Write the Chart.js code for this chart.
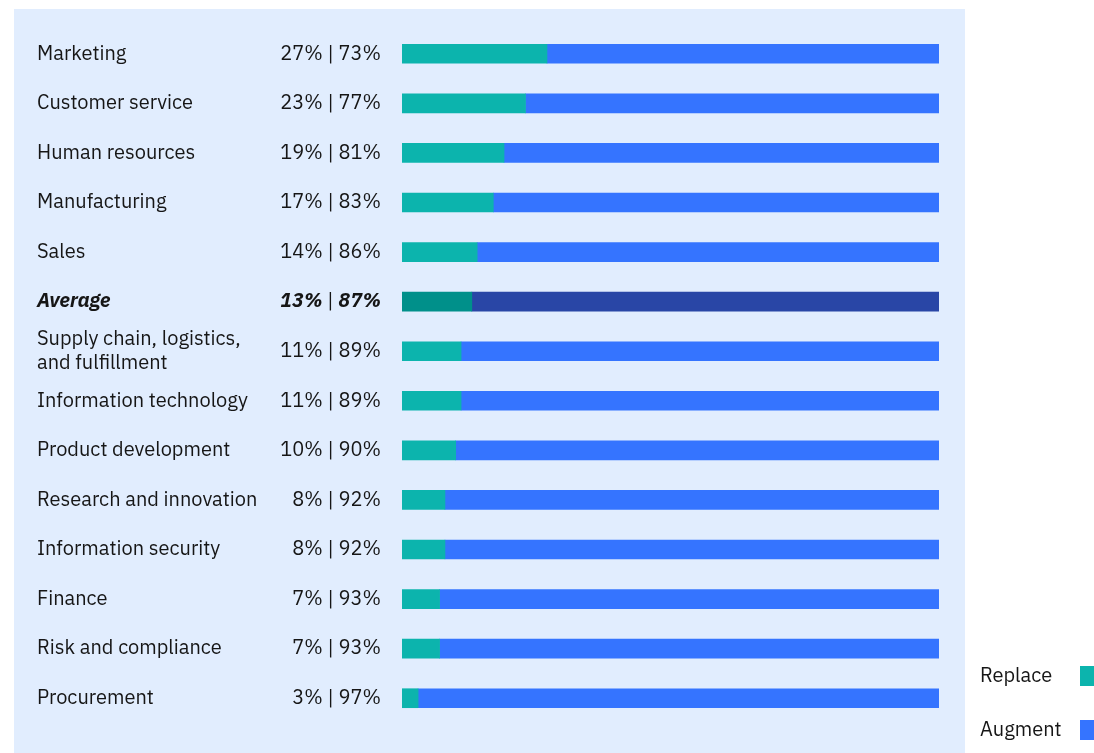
<!DOCTYPE html>
<html>
<head>
<meta charset="utf-8">
<script src="https://cdn.jsdelivr.net/npm/chart.js@4"></script>
<style>
  html, body { margin: 0; padding: 0; background: #ffffff; }
  #wrap { width: 1094px; height: 753px; position: relative; }
</style>
</head>
<body>
<div id="wrap"><canvas id="chart" width="1094" height="753"></canvas></div>
<script>
// share of workers each function expects AI to replace vs augment
var categories = [
  'Marketing', 'Customer service', 'Human resources', 'Manufacturing', 'Sales',
  'Average', ['Supply chain, logistics,', 'and fulfillment'], 'Information technology',
  'Product development', 'Research and innovation', 'Information security',
  'Finance', 'Risk and compliance', 'Procurement'
];
var replace = [27, 23, 19, 17, 14, 13, 11, 11, 10, 8, 8, 7, 7, 3];
var augment = [73, 77, 81, 83, 86, 87, 89, 89, 90, 92, 92, 93, 93, 97];
var avgIndex = 5;

var TEAL = '#0cb4ad', BLUE = '#3574ff';
var TEAL_DARK = '#00908a', BLUE_DARK = '#2946a6';
var FONT = '"IBM Plex Sans", "Noto Sans", sans-serif';
var SIZE = '20px ';
var INK = '#161616';

var colorsFor = function(base, dark) {
  return categories.map(function(c, i) { return i === avgIndex ? dark : base; });
};

var panelAndLabels = {
  id: 'panelAndLabels',
  beforeDraw: function(chart) {
    var ctx = chart.ctx;
    ctx.save();
    ctx.fillStyle = '#e1edfe';
    ctx.fillRect(14, 9, 951, 744);
    ctx.restore();
  },
  afterDraw: function(chart) {
    var ctx = chart.ctx;
    var y = chart.scales.y;
    var regular = '400 ' + SIZE + FONT;
    ctx.save();
    ctx.fillStyle = INK;
    ctx.textBaseline = 'middle';
    categories.forEach(function(cat, i) {
      var yc = y.getPixelForValue(i);
      var bold = i === avgIndex;
      var f = bold ? 'italic 700 ' + SIZE + FONT : regular;
      ctx.font = f;
      ctx.textAlign = 'left';
      if (Array.isArray(cat)) {
        ctx.fillText(cat[0], 37, yc - 12);
        ctx.fillText(cat[1], 37, yc + 12);
      } else {
        ctx.fillText(cat, 37, yc);
      }
      // "xx% | yy%" right-aligned against the bars
      var left = replace[i] + '%', right = augment[i] + '%', sep = ' | ';
      var wR = ctx.measureText(right).width;
      var wL = ctx.measureText(left).width;
      ctx.font = regular;
      var wS = ctx.measureText(sep).width;
      var x = 381 - wR - wS - wL;
      ctx.font = f;
      ctx.fillText(left, x, yc);
      ctx.font = regular;
      ctx.fillText(sep, x + wL, yc);
      ctx.font = f;
      ctx.fillText(right, x + wL + wS, yc);
    });

    // legend on the right
    var items = [['Replace', TEAL, 676], ['Augment', BLUE, 730]];
    ctx.font = regular;
    ctx.textAlign = 'left';
    items.forEach(function(it) {
      ctx.fillStyle = INK;
      ctx.fillText(it[0], 980, it[2]);
      ctx.fillStyle = it[1];
      ctx.fillRect(1080, it[2] - 10, 19, 20);
    });
    ctx.restore();
  }
};

var ctx = document.getElementById('chart').getContext('2d');
var chart = new Chart(ctx, {
  type: 'bar',
  data: {
    labels: categories,
    datasets: [{
      label: 'Replace',
      data: replace,
      backgroundColor: colorsFor(TEAL, TEAL_DARK),
      borderWidth: 0
    }, {
      label: 'Augment',
      data: augment,
      backgroundColor: colorsFor(BLUE, BLUE_DARK),
      borderWidth: 0
    }]
  },
  options: {
    indexAxis: 'y',
    responsive: false,
    animation: false,
    devicePixelRatio: 1,
    layout: { padding: { left: 402, right: 155, top: 29, bottom: 30 } },
    datasets: { bar: { barThickness: 19 } },
    scales: {
      x: { stacked: true, min: 0, max: 100, display: false },
      y: { stacked: true, display: false, offset: true }
    },
    plugins: {
      legend: { display: false },
      tooltip: { enabled: false }
    }
  },
  plugins: [panelAndLabels]
});
</script>
</body>
</html>
